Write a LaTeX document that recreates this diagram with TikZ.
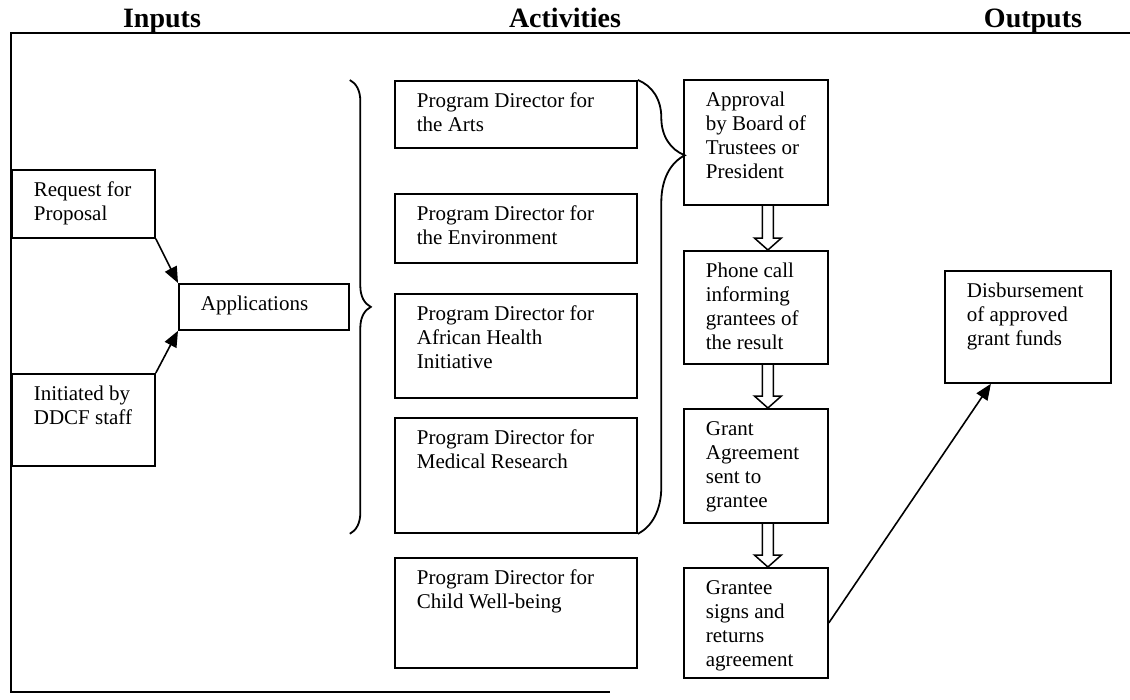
\documentclass[tikz,border=0pt]{standalone}
\usepackage{fontspec}
\setmainfont{Liberation Serif}
\usetikzlibrary{arrows.meta, calc, decorations.pathreplacing}

% text set at the top left of a box
\newcommand{\celltext}[3]{\parbox[t][#2][t]{#1}{\begin{tabular}[t]{@{}l@{}}#3\end{tabular}}}

\newcommand{\hollowarrow}[2]{%
  \draw[hollow] ([xshift=6.5pt]#1.south) -- ([xshift=6.5pt,yshift=12pt]#2.north)
    -- ([xshift=-1.5pt,yshift=12pt]#2.north) -- ([xshift=12pt]#2.north)
    -- ([xshift=25.5pt,yshift=12pt]#2.north) -- ([xshift=17.5pt,yshift=12pt]#2.north)
    -- ([xshift=17.5pt]#1.south);}

\tikzset{
  cell/.style={draw, line width=1.8pt, anchor=north west, inner xsep=22pt, inner ysep=10pt,
               font=\fontsize{21}{24}\selectfont},
  head/.style={anchor=base, font=\fontsize{28}{30}\selectfont\bfseries},
  rule/.style={line width=1.8pt},
  hollow/.style={line width=1.5pt, line join=miter},
}

\begin{document}
\begin{tikzpicture}[x=1pt, y=-1pt]
\useasboundingbox (0,0) rectangle (1130,699);

% headings and frame
\node[head] (inputs) at (162,27) {Inputs};
\node[head] (activities) at (565,27) {Activities};
\node[head] (outputs) at (1033,27) {Outputs};
\draw[rule] (10,33) -- (1130,33);
\draw[rule] (11,33) -- (11,692) -- (610,692);

% inputs
\node[cell] (req) at (11,169) {\celltext{99pt}{48pt}{Request for\\Proposal}};
\node[cell] (init) at (11,373) {\celltext{99pt}{72pt}{Initiated by\\DDCF staff}};
\node[cell] (apps) at (178,283) {\celltext{126pt}{26pt}{Applications}};

% program directors
\node[cell] (arts) at (394,80) {\celltext{198pt}{47pt}{Program Director for\\the Arts}};
\node[cell] (env) at (394,193) {\celltext{198pt}{49pt}{Program Director for\\the Environment}};
\node[cell] (afr) at (394,293) {\celltext{198pt}{84pt}{Program Director for\\African Health\\Initiative}};
\node[cell] (med) at (394,417) {\celltext{198pt}{95pt}{Program Director for\\Medical Research}};
\node[cell] (child) at (394,557) {\celltext{198pt}{90pt}{Program Director for\\Child Well-being}};

% approval steps
\node[cell] (appr) at (683,79) {\celltext{100pt}{105pt}{Approval\\by Board of\\Trustees or\\President}};
\node[cell] (phone) at (683,250) {\celltext{100pt}{93pt}{Phone call\\informing\\grantees of\\the result}};
\node[cell] (grant) at (683,408) {\celltext{100pt}{94pt}{Grant\\Agreement\\sent to\\grantee}};
\node[cell] (signs) at (683,567) {\celltext{100pt}{90pt}{Grantee\\signs and\\returns\\agreement}};

% output
\node[cell] (disb) at (944,270) {\celltext{122pt}{92pt}{Disbursement\\of approved\\grant funds}};

\begin{scope}[>={Triangle[length=16pt, width=13pt]}, line width=1.6pt]
    \draw[->] (req.south east) -- (apps.north west);
    \draw[->] (init.north east) -- (apps.south west);
    \draw[->] (signs.east) -- ([xshift=-37pt]disb.south);
\end{scope}

\draw[line width=1.8pt, decorate, decoration={brace, amplitude=21pt}]
    (apps.east |- arts.north) -- (apps.east |- med.south);
\draw[line width=1.8pt, decorate, decoration={brace, amplitude=47pt, aspect=0.166}]
    (arts.north east) -- (med.south east);

\hollowarrow{appr}{phone}
\hollowarrow{phone}{grant}
\hollowarrow{grant}{signs}
\end{tikzpicture}
\end{document}
